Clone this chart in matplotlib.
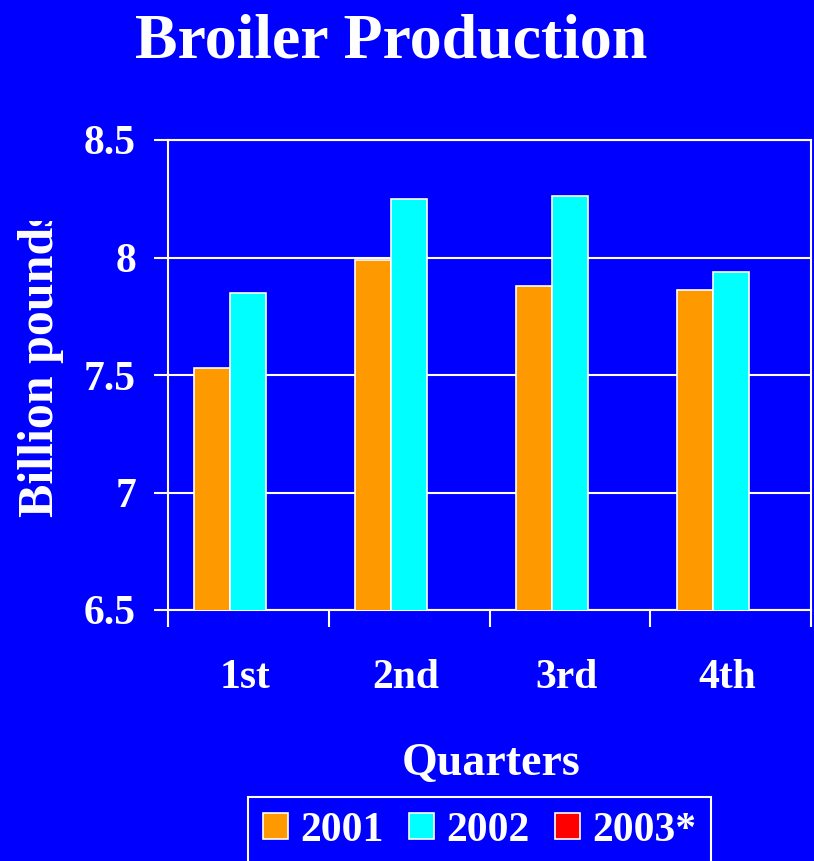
import numpy as np
import matplotlib
matplotlib.use("Agg")
import matplotlib.pyplot as plt
from matplotlib.transforms import Bbox, TransformedBbox

# data
quarters = ["1st", "2nd", "3rd", "4th"]
years = ["2001", "2002", "2003*"]
prod_2001 = [7.53, 7.99, 7.88, 7.86]
prod_2002 = [7.85, 8.25, 8.26, 7.94]
prod_2003 = [np.nan, np.nan, np.nan, np.nan]  # only in the legend
y_ticks = [6.5, 7, 7.5, 8, 8.5]

bg = "#0000FF"
colors = ["#FF9900", "#00FFFF", "#FF0000"]

plt.rcParams["font.family"] = ["Liberation Serif", "DejaVu Serif"]
plt.rcParams["font.weight"] = "bold"

fig = plt.figure(figsize=(8.14, 8.61), dpi=100, facecolor=bg)
ax = fig.add_axes([168 / 814, 1 - 610 / 861, 643 / 814, 470 / 861])
ax.set_facecolor(bg)

x = np.arange(len(quarters))
w = 0.224
series = [prod_2001, prod_2002, prod_2003]
for i, vals in enumerate(series):
    ax.bar(x + (i - 1) * w, vals, width=w, bottom=0, color=colors[i],
           edgecolor="white", linewidth=1.2, label=years[i], zorder=3)

ax.set_ylim(6.5, 8.5)
ax.set_xlim(-0.5, 3.5)
ax.set_yticks(y_ticks)
ax.set_yticklabels(["%g" % v for v in y_ticks])
ax.yaxis.grid(True, color="white", linewidth=1.5, zorder=1)
ax.set_axisbelow(True)

# tick marks at category edges, labels at the middle
ax.set_xticks(np.arange(-0.5, 4.0, 1.0))
ax.set_xticklabels([])
ax.set_xticks(x - 0.02, minor=True)
ax.set_xticklabels(quarters, minor=True)
ax.tick_params(axis="x", which="major", length=12, width=1.5, color="white")
ax.tick_params(axis="x", which="minor", length=0, pad=35,
               labelsize=30, labelcolor="white")
ax.tick_params(axis="y", length=10, width=1.5, color="white", pad=13,
               labelsize=30, labelcolor="white")

for s in ax.spines.values():
    s.set_color("white")
    s.set_linewidth(1.5)

fig.text(0.480, 1 - 57 / 861, "Broiler Production", ha="center",
         va="baseline", fontsize=46, color="white", fontweight="bold")
fig.text(491 / 814, 1 - 775 / 861, "Quarters", ha="center", va="baseline",
         fontsize=33, color="white", fontweight="bold")

# y label, cut off at the top like the original
yl = fig.text(53 / 814, 1 - 517 / 861, "Billion pounds", rotation=90,
              rotation_mode="anchor", ha="left", va="baseline",
              fontsize=36, color="white", fontweight="bold")
clip = TransformedBbox(Bbox.from_extents(0, 0, 1, 1 - 221 / 861),
                       fig.transFigure)
yl.set_clip_box(clip)
yl.set_clip_on(True)

leg = fig.legend(loc="upper center", bbox_to_anchor=(479.5 / 814, 1 - 797 / 861),
                 ncol=3, frameon=True, fancybox=False, fontsize=30,
                 handlelength=0.6, handleheight=0.6, handletextpad=0.3,
                 columnspacing=0.6, borderpad=0.35, borderaxespad=0)
leg.get_frame().set_facecolor(bg)
leg.get_frame().set_edgecolor("white")
leg.get_frame().set_linewidth(1.5)
leg.get_frame().set_alpha(None)
for t in leg.get_texts():
    t.set_color("white")

fig.savefig("out.png", dpi=100, facecolor=bg)
